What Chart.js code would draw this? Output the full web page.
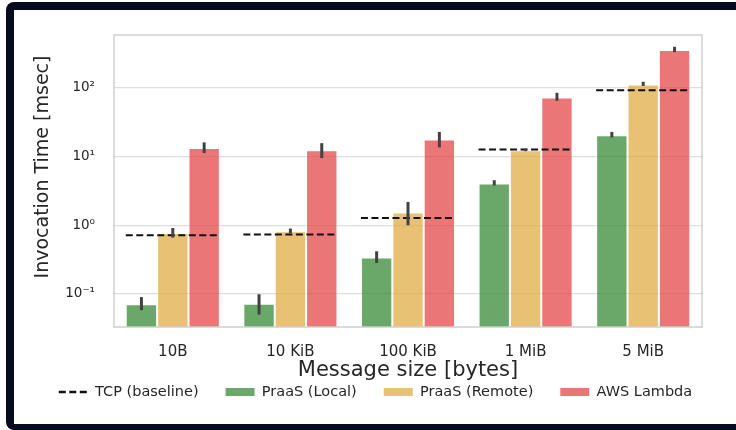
<!DOCTYPE html>
<html>
<head>
<meta charset="utf-8">
<script src="https://cdn.jsdelivr.net/npm/chart.js@4.4.1/dist/chart.umd.min.js"></script>
<style>
  html, body { margin: 0; padding: 0; background: #fff; }
  body { width: 736px; height: 430px; position: relative; overflow: hidden; }
  #frame {
    position: absolute; left: 6px; top: 2px; width: 780px; height: 414px;
    border: solid #070b1f; border-width: 8px 0 6px 8px; border-radius: 8px;
  }
  #wrap { position: absolute; left: 0; top: 0; width: 736px; height: 430px; }
</style>
</head>
<body>
<div id="frame"></div>
<div id="wrap"><canvas id="chart" width="736" height="430"></canvas></div>
<script>
// message sizes on the x axis
const categories = ['10B', '10 KiB', '100 KiB', '1 MiB', '5 MiB'];

// mean invocation time [msec] and error bar ends
const praasLocal = [0.071, 0.072, 0.338, 4.05, 20.5];
const praasLocalLo = [0.058, 0.050, 0.282, 3.79, 19.0];
const praasLocalHi = [0.090, 0.099, 0.418, 4.53, 22.9];

const praasRemote = [0.772, 0.818, 1.53, 12.4, 112.5];
const praasRemoteLo = [0.662, 0.764, 1.0, 12.0, 107];
const praasRemoteHi = [0.913, 0.895, 2.19, 13.1, 123];

const awsLambda = [13.3, 12.4, 17.8, 72.7, 356];
const awsLambdaLo = [11.3, 9.5, 13.6, 64.9, 332];
const awsLambdaHi = [16.1, 15.7, 22.9, 84.9, 397];

// TCP baseline, drawn as a dashed line across each group
const tcpBaseline = [0.715, 0.732, 1.28, 12.7, 92.9];

const yTickValues = [0.1, 1, 10, 100];
const yTickLabels = ['10\u207B\u00B9', '10\u2070', '10\u00B9', '10\u00B2'];
const yTitle = 'Invocation Time [msec]';

const FONT = 'DejaVu Sans';
const TEXT = '#262626';
const GREEN = 'rgba(56,139,56,0.75)';
const ORANGE = 'rgba(224,172,70,0.75)';
const RED = 'rgba(227,72,75,0.75)';

const errorRanges = [
  [praasLocalLo, praasLocalHi],
  [praasRemoteLo, praasRemoteHi],
  [awsLambdaLo, awsLambdaHi],
];

// draws the axes box, the TCP dashes, the error bars and the y label
const overlay = {
  id: 'overlay',
  afterDatasetsDraw(chart) {
    const { ctx, chartArea, scales } = chart;
    const xs = scales.x;
    const ys = scales.y;
    const groupW = (xs.width / categories.length) * 0.8;

    ctx.save();
    ctx.strokeStyle = '#cfcfcf';
    ctx.lineWidth = 1.5;
    ctx.strokeRect(chartArea.left, chartArea.top, chartArea.width, chartArea.height);

    ctx.setLineDash([7, 3.5]);
    ctx.strokeStyle = '#111';
    ctx.lineWidth = 2;
    tcpBaseline.forEach((v, i) => {
      const cx = xs.getPixelForValue(i);
      const y = ys.getPixelForValue(v);
      ctx.beginPath();
      ctx.moveTo(cx - groupW / 2, y);
      ctx.lineTo(cx + groupW / 2, y);
      ctx.stroke();
    });

    ctx.setLineDash([]);
    ctx.strokeStyle = '#424242';
    ctx.lineWidth = 3;
    errorRanges.forEach(([lo, hi], di) => {
      const meta = chart.getDatasetMeta(di);
      meta.data.forEach((bar, i) => {
        ctx.beginPath();
        ctx.moveTo(bar.x, ys.getPixelForValue(lo[i]));
        ctx.lineTo(bar.x, ys.getPixelForValue(hi[i]));
        ctx.stroke();
      });
    });

    // y label sits a little above the axes centre in the original
    ctx.translate(43, (chartArea.top + chartArea.bottom) / 2 - 14);
    ctx.rotate(-Math.PI / 2);
    ctx.fillStyle = TEXT;
    ctx.font = `19px "${FONT}"`;
    ctx.textAlign = 'center';
    ctx.textBaseline = 'middle';
    ctx.fillText(yTitle, 0, 0);
    ctx.restore();
  },
};

const barStyle = { borderColor: 'rgba(255,255,255,0.5)', borderWidth: 1, categoryPercentage: 0.8, barPercentage: 1.0 };

new Chart(document.getElementById('chart'), {
  type: 'bar',
  data: {
    labels: categories,
    datasets: [
      { label: 'PraaS (Local)', data: praasLocal, backgroundColor: GREEN, ...barStyle },
      { label: 'PraaS (Remote)', data: praasRemote, backgroundColor: ORANGE, ...barStyle },
      { label: 'AWS Lambda', data: awsLambda, backgroundColor: RED, ...barStyle },
    ],
  },
  options: {
    responsive: false,
    animation: false,
    layout: { padding: { left: 15, right: 0, top: 35, bottom: 20.75 } },
    plugins: {
      tooltip: { enabled: false },
      legend: {
        position: 'bottom',
        labels: {
          usePointStyle: true,
          pointStyleWidth: 29,
          boxHeight: 8,
          padding: 27,
          color: TEXT,
          font: { family: FONT, size: 14.5 },
          generateLabels: () => [
            { text: 'TCP (baseline)', pointStyle: 'line', strokeStyle: '#111', lineWidth: 2.5, lineDash: [7, 3.5], fillStyle: 'transparent', fontColor: TEXT },
            { text: 'PraaS (Local)', pointStyle: 'rect', fillStyle: GREEN, strokeStyle: GREEN, lineWidth: 0, fontColor: TEXT },
            { text: 'PraaS (Remote)', pointStyle: 'rect', fillStyle: ORANGE, strokeStyle: ORANGE, lineWidth: 0, fontColor: TEXT },
            { text: 'AWS Lambda', pointStyle: 'rect', fillStyle: RED, strokeStyle: RED, lineWidth: 0, fontColor: TEXT },
          ],
        },
      },
    },
    scales: {
      x: {
        grid: { display: false, drawTicks: false },
        border: { display: false },
        ticks: { color: TEXT, font: { family: FONT, size: 15 }, padding: 16, maxRotation: 0 },
        title: {
          display: true,
          text: 'Message size [bytes]',
          color: TEXT,
          font: { family: FONT, size: 21 },
          padding: { top: 0, bottom: -25.85 },
        },
        afterFit: (s) => { s.height = 30.75; },
      },
      y: {
        type: 'logarithmic',
        min: 0.033,
        max: 590,
        afterBuildTicks: (s) => { s.ticks = yTickValues.map((v) => ({ value: v })); },
        grid: { color: '#dddddd', lineWidth: 1.3, drawTicks: false },
        border: { display: false },
        ticks: {
          color: TEXT,
          font: { family: FONT, size: 13.5 },
          padding: 19,
          callback: (v, i) => yTickLabels[i],
        },
        afterFit: (s) => { s.width = 99; },
      },
      yRight: {
        position: 'right',
        display: true,
        grid: { display: false, drawTicks: false },
        border: { display: false },
        ticks: { display: false },
        afterFit: (s) => { s.width = 34; },
      },
    },
  },
  plugins: [overlay],
});
</script>
</body>
</html>
